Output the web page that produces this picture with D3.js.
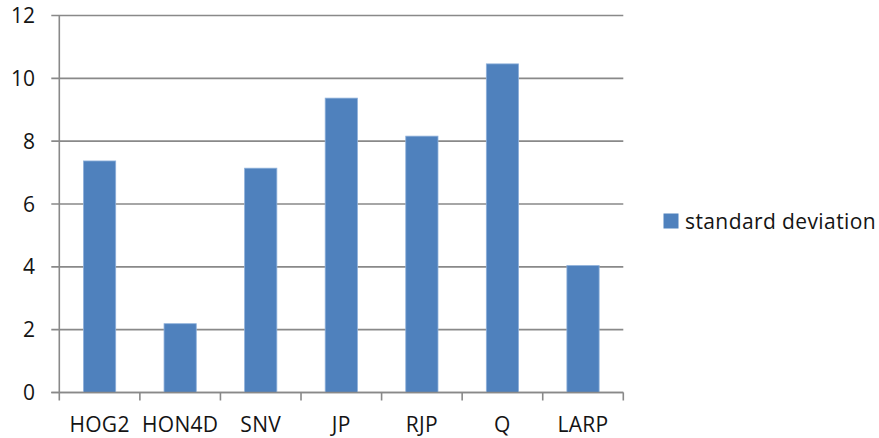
<!DOCTYPE html>
<html>
<head>
<meta charset="utf-8">
<script src="https://cdn.jsdelivr.net/npm/d3@7/dist/d3.min.js"></script>
<style>
  html, body { margin: 0; padding: 0; background: #fff; }
  svg { display: block; }
  text { font-family: "Open Sans", "Noto Sans", sans-serif; fill: #141414; }
</style>
</head>
<body>
<svg id="chart" width="879" height="438"></svg>
<script>
// Standard deviation per method
const categories = ["HOG2", "HON4D", "SNV", "JP", "RJP", "Q", "LARP"];
const stdValues = [7.37, 2.19, 7.14, 9.37, 8.16, 10.46, 4.04];
const yTicks = [0, 2, 4, 6, 8, 10, 12];
const seriesName = "standard deviation";

const svg = d3.select("#chart");
const plotLeft = 59.3, plotRight = 623.3, plotTop = 15.5, plotBottom = 392.5;
const gridColor = "#898989";
const barColor = "#4f81bd";

const y = d3.scaleLinear().domain([0, 12]).range([plotBottom, plotTop]);

// category slots (tick marks at slot edges) and bars inside each slot
const slot = d3.scaleBand().domain(categories).range([plotLeft, plotRight]).padding(0);
const x = d3.scaleBand().domain(categories).range([plotLeft, plotRight])
  .paddingInner(0.6).paddingOuter(0.3);

// horizontal gridlines with left tick stubs
svg.append("g").selectAll("line").data(yTicks).join("line")
  .attr("x1", plotLeft - 8).attr("x2", plotRight)
  .attr("y1", d => y(d)).attr("y2", d => y(d))
  .attr("stroke", gridColor).attr("stroke-width", 1.6);

// y tick labels
svg.append("g").selectAll("text").data(yTicks).join("text")
  .attr("x", 35).attr("y", d => y(d))
  .attr("text-anchor", "end").attr("dy", "0.36em")
  .attr("font-size", 21)
  .text(d => d);

// bars
svg.append("g").selectAll("rect").data(categories).join("rect")
  .attr("x", d => x(d))
  .attr("width", x.bandwidth())
  .attr("y", (d, i) => y(stdValues[i]))
  .attr("height", (d, i) => y(0) - y(stdValues[i]))
  .attr("fill", barColor)
  .attr("stroke", "#8eb0da").attr("stroke-width", 0.8);

// axis lines
svg.append("line")
  .attr("x1", plotLeft).attr("x2", plotLeft).attr("y1", plotTop).attr("y2", plotBottom)
  .attr("stroke", gridColor).attr("stroke-width", 1.6);
svg.append("line")
  .attr("x1", plotLeft - 8).attr("x2", plotRight).attr("y1", plotBottom).attr("y2", plotBottom)
  .attr("stroke", gridColor).attr("stroke-width", 1.6);

// x tick marks at slot boundaries
const edges = categories.map(c => slot(c)).concat([plotRight]);
svg.append("g").selectAll("line").data(edges).join("line")
  .attr("x1", d => d).attr("x2", d => d)
  .attr("y1", plotBottom).attr("y2", plotBottom + 8)
  .attr("stroke", gridColor).attr("stroke-width", 1.6);

// category labels
svg.append("g").selectAll("text").data(categories).join("text")
  .attr("x", d => slot(d) + slot.bandwidth() / 2)
  .attr("y", 432)
  .attr("text-anchor", "middle")
  .attr("font-size", 21)
  .attr("letter-spacing", 0.3)
  .text(d => d);

// legend
const legend = svg.append("g");
legend.append("rect")
  .attr("x", 663.5).attr("y", 213.5).attr("width", 15).attr("height", 15)
  .attr("fill", barColor);
legend.append("text")
  .attr("x", 685).attr("y", 221).attr("dy", "0.36em")
  .attr("font-size", 21)
  .attr("letter-spacing", 0.4)
  .text(seriesName);
</script>
</body>
</html>
